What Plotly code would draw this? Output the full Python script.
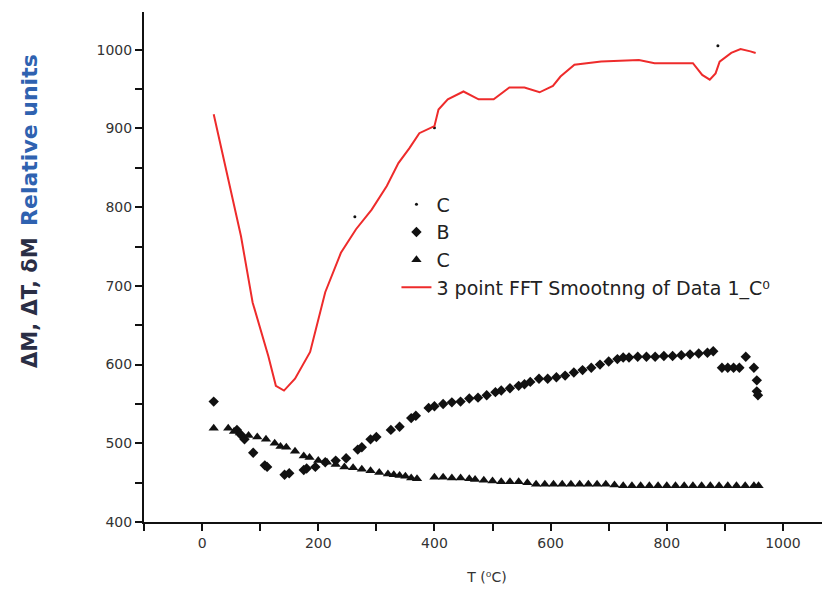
import plotly.graph_objects as go

# Dot series "C"
c_dot_x = [263, 400, 888]
c_dot_y = [788, 901, 1005]

# Series "B"
b_x = [20, 60, 68, 73, 88, 108, 112, 142, 150, 175, 180, 195, 212, 230, 248, 268, 275, 290, 300,
       325, 340, 360, 368, 390, 400, 415, 430, 445, 460, 475, 490, 505, 515, 530, 545, 555, 565,
       580, 595, 610, 625, 640, 655, 670, 685, 700, 715, 725, 735, 750, 765, 780, 795, 810, 825,
       840, 855, 870, 880, 895, 905, 915, 925, 936, 950, 955, 955, 957]
b_y = [553, 517, 510, 505, 488, 472, 470, 460, 462, 466, 468, 470, 476, 478, 481, 492, 495, 505, 508,
       517, 521, 532, 535, 545, 547, 550, 552, 553, 557, 558, 561, 565, 567, 570, 573, 575, 578,
       582, 582, 584, 586, 590, 593, 596, 600, 604, 607, 609, 609, 610, 610, 610, 611, 611, 612,
       613, 614, 615, 617, 596, 596, 596, 596, 610, 596, 580, 566, 561]

# Triangle series "C"
t_x = [20, 45, 55, 65, 80, 95, 110, 125, 135, 145, 160, 175, 185, 200, 215, 230, 245, 260, 275,
       290, 305, 320, 330, 340, 350, 360, 370, 400, 415, 430, 445, 460, 470, 485, 500, 515, 530,
       545, 560, 575, 590, 605, 620, 635, 650, 665, 680, 695, 710, 725, 740, 755, 770, 785, 800,
       815, 830, 845, 860, 875, 890, 905, 920, 935, 950, 958]
t_y = [519, 519, 515, 513, 510, 508, 505, 500, 496, 495, 490, 484, 482, 478, 476, 473, 470, 469, 467,
       465, 463, 461, 460, 459, 458, 456, 455, 457, 457, 456, 456, 455, 454, 453, 452, 451, 451,
       451, 450, 448, 448, 448, 448, 448, 448, 448, 448, 448, 447, 446, 446, 446, 446, 446, 446,
       446, 446, 446, 446, 446, 446, 446, 446, 446, 446, 446]

# Red smoothed curve
s_x = [20, 48, 67, 87, 114, 127, 141, 160, 186, 212, 239, 265, 292, 318, 338, 357, 374, 400, 407,
       423, 450, 476, 502, 529, 555, 581, 604, 617, 641, 687, 752, 779, 845, 861, 874, 884, 891,
       911, 927, 944, 953]
s_y = [918, 827, 763, 679, 611, 573, 567, 582, 616, 692, 742, 772, 797, 827, 856, 875, 894, 903, 924,
       937, 947, 937, 937, 952, 952, 946, 954, 966, 981, 985, 987, 983, 983, 968, 962, 970, 985,
       996, 1001, 998, 996]

FONT = "DejaVu Sans"

fig = go.Figure()
fig.add_trace(go.Scatter(x=c_dot_x, y=c_dot_y, mode="markers", name="C",
                         marker=dict(symbol="circle", size=3, color="#111")))
fig.add_trace(go.Scatter(x=b_x, y=b_y, mode="markers", name="B",
                         marker=dict(symbol="diamond", size=8, color="#111")))
fig.add_trace(go.Scatter(x=t_x, y=t_y, mode="markers", name="C",
                         marker=dict(symbol="triangle-up", size=9, color="#111")))
fig.add_trace(go.Scatter(x=s_x, y=s_y, mode="lines", name="3 point FFT Smootnng of Data 1_C\u2070",
                         line=dict(color="#ee2b2b", width=2)))

axis_common = dict(showgrid=False, zeroline=False, showline=True, linecolor="#111", linewidth=2,
                   ticks="outside", ticklen=7, tickwidth=2, tickcolor="#111",
                   tickfont=dict(family=FONT, size=14, color="#333"))

fig.update_layout(
    width=822, height=588,
    margin=dict(l=136, r=0, t=4, b=74),
    paper_bgcolor="white", plot_bgcolor="white",
    font=dict(family=FONT, color="#222"),
    showlegend=True,
    legend=dict(x=0.368, y=0.66, xanchor="left", yanchor="top",
                bgcolor="rgba(0,0,0,0)", font=dict(family=FONT, size=19, color="#222"),
                tracegroupgap=0),
    xaxis=dict(range=[-100, 1081], dtick=200, tick0=0,
               minor=dict(dtick=100, tick0=0, ticks="outside", ticklen=7, tickwidth=2, tickcolor="#111"),
               title=dict(text="T (\u2070C)", font=dict(family=FONT, size=14, color="#333"), standoff=22),
               **axis_common),
    yaxis=dict(range=[400, 1048], dtick=100, tick0=0,
               minor=dict(dtick=50, tick0=0, ticks="outside", ticklen=7, tickwidth=2, tickcolor="#111"),
               **axis_common),
    annotations=[dict(
        x=-0.166, y=0.61, xref="paper", yref="paper", xanchor="center", yanchor="middle",
        textangle=-90, showarrow=False,
        text="<span style='color:#2a2e45;font-size:21px'><b>\u0394M, \u0394T, \u03b4M</b></span>"
             "&nbsp;&nbsp;&nbsp;<span style='color:#2f62b0;font-size:22px'><b>Relative units</b></span>",
        font=dict(family=FONT))],
)

fig.write_html("out.html")
